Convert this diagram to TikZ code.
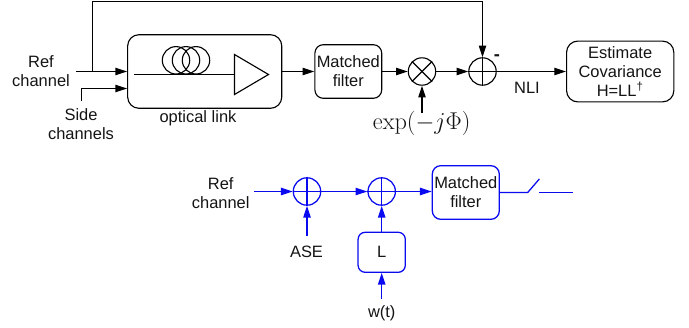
\documentclass[tikz,border=0pt]{standalone}
\usepackage{amsmath}
\usepackage[no-math]{fontspec}
\setmainfont{Liberation Sans}
\usepackage{xcolor}
\usetikzlibrary{arrows.meta,calc}
\definecolor{chanblue}{RGB}{10,10,240}
\definecolor{darktext}{RGB}{20,20,20}

\begin{document}
\begin{tikzpicture}[
  x=0.025cm,y=-0.025cm,
  lbl/.style={font=\fontsize{11.7}{13.9}\selectfont,text=darktext,align=center,inner sep=0pt},
  block/.style={draw=black,line width=0.8pt,rounded corners=6pt,inner sep=0pt,
               font=\fontsize{11.7}{13.6}\selectfont,text=darktext,align=center},
  mixer/.style={draw=black,line width=0.8pt,circle,minimum size=0.685cm,inner sep=0pt},
  wire/.style={line width=0.8pt,color=black},
  arrow/.style={wire,-{Triangle[length=8.3pt,width=5.2pt]}},
  bblock/.style={block,draw=chanblue,line width=0.9pt},
  bmixer/.style={mixer,draw=chanblue,line width=0.9pt},
  bwire/.style={wire,color=chanblue,line width=0.9pt},
  barrow/.style={arrow,color=chanblue,line width=0.9pt}
]
\useasboundingbox (0,0) rectangle (689,328);

% upper chain
\node[block,rounded corners=8pt,minimum width=3.85cm,minimum height=1.84cm] (link) at (204.7,71.5) {};
\node[block,minimum width=1.67cm,minimum height=1.34cm] (mf) at (348.3,71.5) {Matched\\filter};
\node[mixer] (mix) at (422,71.5) {};
\node[mixer] (sum) at (482.5,71.5) {};
\node[block,rounded corners=8pt,minimum width=2.68cm,minimum height=1.52cm] (cov) at (620.2,71.5) {Estimate\\Covariance\\H=LL\textsuperscript{†}};

\node[lbl] (ref)  at (41,71) {Ref\\channel};
\node[lbl] (side) at (81,124) {Side\\channels};
\node[lbl] (oplabel) at (198,118.7) {optical link};
\node[lbl] (nli)  at (527,88) {NLI};
\node[lbl,font=\fontsize{15.9}{18}\selectfont] (phase) at (421.7,123) {$\exp(-j\Phi)$};
\node[lbl,font=\bfseries\fontsize{13}{13.9}\selectfont] (minus) at (497,58) {-};

\coordinate (refin) at (76,71.5);
\coordinate (tap) at (92.5,71.5);
\coordinate (top) at (300,1.5);
\coordinate (sidein) at (81.5,101);
\coordinate (phasein) at (422,113);

\draw[arrow] (refin) -- (link.west);
\draw[arrow] (sidein) |- ($(link.west)+(0,17)$);
\draw[wire] (tap) |- (top);
\draw[arrow] (top) -| (sum.north);
\draw[arrow] (link.east) -- (mf.west);
\draw[arrow] (mf.east) -- (mix.west);
\draw[arrow] (mix.east) -- (sum.west);
\draw[arrow] (sum.east) -- (cov.west);
\draw[arrow] (phasein) -- (mix.south);
\draw[wire] (mix.north west) -- (mix.south east);
\draw[wire] (mix.north east) -- (mix.south west);
\draw[wire] (sum.north) -- (sum.south);
\draw[wire] (sum.west) -- (sum.east);

% fibre spool and amplifier
\foreach \cx in {176,186,196}
  \draw[wire] (\cx,60.3) circle (0.3425cm);
\coordinate (fibre) at (134,74.5);
\coordinate (ampa) at (234.5,54.5);
\coordinate (ampb) at (234.5,94.5);
\coordinate (ampc) at (268.5,74.5);
\draw[wire] (fibre) -- (fibre -| ampa);
\draw[wire] (ampa) -- (ampb) -- (ampc) -- cycle;

% lower chain
\node[bmixer] (ase) at (307,191.5) {};
\node[bmixer] (add) at (381.7,191.5) {};
\node[bblock,minimum width=1.675cm,minimum height=1.34cm] (rx) at (465.8,192.5) {Matched\\filter};
\node[bblock,rounded corners=5pt,minimum width=1.18cm,minimum height=1.0cm] (chol) at (381.7,252.3) {L};

\node[lbl] (ref2) at (220.7,193.3) {Ref\\channel};
\node[lbl] (aselabel) at (306.5,252) {ASE};
\node[lbl] (noise) at (381.7,313) {w(t)};

\coordinate (ref2in) at (254.3,191.5);
\coordinate (asein) at (307,236);
\coordinate (noisein) at (381.7,299);
\coordinate (swa) at (527.7,192.5);
\coordinate (swb) at (539.3,179);
\coordinate (swc) at (539.3,192.5);
\coordinate (swd) at (572.7,192.5);

\draw[barrow] (ref2in) -- (ase.west);
\draw[barrow] (asein) -- (ase.south);
\draw[barrow] (ase.east) -- (add.west);
\draw[barrow] (add.east) -- (rx.west |- add.east);
\draw[barrow] (chol.north) -- (add.south);
\draw[barrow] (noisein) -- (chol.south);
\draw[bwire] (ase.north) -- (ase.south);
\draw[bwire] (ase.west) -- (ase.east);
\draw[bwire] (add.north) -- (add.south);
\draw[bwire] (add.west) -- (add.east);
\draw[bwire] (rx.east) -- (swa) -- (swb);
\draw[bwire] (swc) -- (swd);
\end{tikzpicture}
\end{document}
